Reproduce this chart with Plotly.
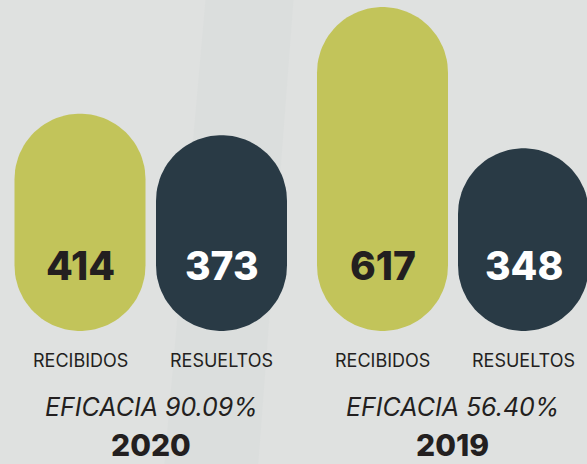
import numpy as np
import plotly.graph_objects as go

# ---- data ----
years = ["2020", "2019"]
categories = ["RECIBIDOS", "RESUELTOS"]
recibidos = [414, 617]
resueltos = [373, 348]
eficacia = ["90.09%", "56.40%"]

# ---- styling / layout ----
W, H = 587, 464
GREEN = "#c2c45a"
DARK = "#293a45"
BG = "#dfe1e0"
TXT = "#231f20"
PPU = 0.525          # pixels per value unit
BASE_PX = 331        # pixel row of value 0
BAR_W = 131          # pill width in px (x axis is in px)
centers = [[80, 221.5], [382.5, 523.5]]
group_centers = [151, 452]

r_px = BAR_W / 2
r_val = r_px / PPU
y_top = BASE_PX / PPU
y_bot = -(H - BASE_PX) / PPU

def pill(cx, v, n=48):
    t_top = np.linspace(0, np.pi, n)
    t_bot = np.linspace(np.pi, 2 * np.pi, n)
    xs = np.concatenate([cx + r_px * np.cos(t_top), cx + r_px * np.cos(t_bot)])
    ys = np.concatenate([(v - r_val) + r_val * np.sin(t_top), r_val + r_val * np.sin(t_bot)])
    return np.append(xs, xs[0]), np.append(ys, ys[0])

fig = go.Figure()
# subtle background streak
fig.add_shape(type="path", xref="paper", yref="paper",
              path="M 0.35,1 L 0.50,1 L 0.44,0 L 0.28,0 Z",
              fillcolor="rgba(200,202,202,0.12)", line_width=0, layer="below")

annotations = []
for g, yr in enumerate(years):
    vals = [recibidos[g], resueltos[g]]
    for k, v in enumerate(vals):
        cx = centers[g][k]
        xs, ys = pill(cx, v)
        col = GREEN if k == 0 else DARK
        fig.add_trace(go.Scatter(x=xs, y=ys, mode="lines", fill="toself",
                                 fillcolor=col, line=dict(width=0, color=col),
                                 hoverinfo="skip", showlegend=False))
        annotations.append(dict(x=cx, y=r_val, xref="x", yref="y", text=str(v),
                                showarrow=False, yanchor="middle",
                                font=dict(family="Inter", size=39, weight=800,
                                          color=TXT if k == 0 else "#ffffff")))
        annotations.append(dict(x=cx, y=1 - 360.5 / H, xref="x", yref="paper",
                                text=categories[k], showarrow=False, yanchor="middle",
                                font=dict(family="Inter", size=18, color=TXT)))
    annotations.append(dict(x=group_centers[g], y=1 - 406.5 / H, xref="x", yref="paper",
                            text="EFICACIA " + eficacia[g], showarrow=False, yanchor="middle",
                            font=dict(family="Inter", size=25, style="italic", color=TXT)))
    annotations.append(dict(x=group_centers[g], y=0, xref="x", yref="paper",
                            text=yr, showarrow=False, yanchor="bottom", borderpad=0,
                            font=dict(family="Inter", size=30, weight=800, color=TXT)))

fig.update_layout(
    width=W, height=H,
    margin=dict(l=0, r=0, t=0, b=0),
    paper_bgcolor=BG, plot_bgcolor="rgba(0,0,0,0)",
    xaxis=dict(range=[0, W], visible=False, fixedrange=True),
    yaxis=dict(range=[y_bot, y_top], visible=False, fixedrange=True),
    annotations=annotations,
)

fig.write_html("out.html", config={"displayModeBar": False},
               post_script="document.body.style.margin='0';document.body.style.overflow='hidden';")
